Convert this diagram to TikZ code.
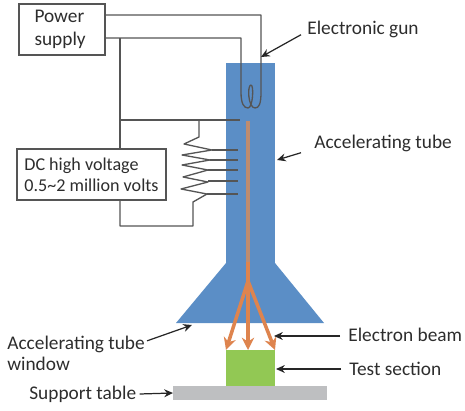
\documentclass[tikz,border=0pt]{standalone}
\usepackage{fontspec}
\setmainfont{Carlito}
\usetikzlibrary{arrows.meta,positioning}
\definecolor{tubeblue}{RGB}{91,142,198}
\definecolor{beamorange}{RGB}{222,132,78}
\definecolor{beamdim}{RGB}{190,140,112}
\definecolor{testgreen}{RGB}{146,200,84}
\definecolor{tablegray}{RGB}{190,191,193}
\definecolor{wiregray}{RGB}{85,85,85}
\definecolor{textgray}{RGB}{45,45,45}

\begin{document}
\begin{tikzpicture}[x=.02cm,y=-.02cm, wire/.style={wiregray,line width=.75pt,line join=round}, box/.style={draw=wiregray,line width=.75pt,fill=white,align=left,font=\fontsize{10.3}{12}\selectfont,text=textgray,inner sep=0pt}, lbl/.style={font=\fontsize{11}{12}\selectfont,text=textgray,align=left,inner sep=0pt,anchor=west}, pointer/.style={-{Stealth[length=5pt,width=4.5pt]},black!85,line width=.7pt}, beam/.style={beamorange,line width=2pt,-{Stealth[length=7pt,width=7pt]}}, solid part/.style={inner sep=0pt,outer sep=0pt}]
  \useasboundingbox (0,0) rectangle (465,411);
  % tube and window
  \node[solid part,fill=tubeblue,minimum width=.98cm,minimum height=4cm] (tube) at (250.5,163) {};
  \node[solid part,fill=tubeblue,draw=tubeblue!85!black,line width=.3pt,minimum width=.98cm,minimum height=0pt] (neck) at (250.5,263) {};
  \coordinate (winL) at (176,323);
  \coordinate (winR) at (324,323);
  \fill[tubeblue] (neck.west) -- (winL) -- (winR) -- (neck.east) -- cycle;
  \node[solid part,fill=testgreen,minimum width=.98cm,minimum height=.72cm] (test) at (250.5,368) {};
  \node[solid part,fill=tablegray,minimum width=3.08cm,minimum height=.28cm] (table) at (250,393) {};
  % boxes
  \node[box,minimum width=1.72cm,minimum height=1.02cm,text width=1.1cm,font=\fontsize{11}{13}\selectfont] (power) at (62,29.5) {Power\\supply};
  \node[box,minimum width=2.98cm,minimum height=1.02cm] (dc) at (91.5,174.5) {DC high voltage\\0.5\textasciitilde2 million volts};
  % power and filament
  \coordinate (filL) at (241,38);
  \coordinate (filR) at (261,15);
  \coordinate (filA) at (248,108);
  \coordinate (filB) at (251,85);
  \coordinate (node1) at (120,38);
  \coordinate (node2) at (120,120);
  \coordinate (grid) at (240,120);
  \coordinate (tap) at (199,120);
  \draw[wire] (power.east |- filL) -- (filL) -- (241,92) .. controls (241,104) and (244,108) .. (filA) .. controls (253,108) and (254,85) .. (filB) .. controls (247,85) and (248,108) .. (255,108) .. controls (259,108) and (261,104) .. (261,92) -- (filR) -- (power.east |- filR);
  \draw[wire] (node1) -- (dc.north -| node1);
  \draw[wire] (node2) -- (grid);
  % divider
  \coordinate (ret) at (120,226);
  \draw[wire] (tap) -- (199,137) -- (184,144) -- (212,150) -- (182,155) -- (210,160) -- (182,165) -- (208,170) -- (183,177) -- (208,182) -- (181,189) -- (207,194) -- (193,202) -- (193,226) -- (ret) -- (dc.south -| ret);
  \foreach \ya/\xa in {150/212,160/210,170/208,181/208,194/207}
    \draw[wire] (\xa,\ya) -- (238,\ya);
  % beam
  \coordinate (fork) at (248,281);
  \draw[beamdim,line width=2.2pt] (248,121) -- (248,262);
  \draw[beamorange,line width=2.2pt] (248,262) -- (fork);
  \draw[beam] (fork) -- (248,350);
  \draw[beam] (fork) -- (226,350);
  \draw[beam] (fork) -- (275,350);
  % labels
  \node[lbl] (gunlbl) at (307,29) {Electronic gun};
  \node[lbl] (tubelbl) at (314,143) {Accelerating tube};
  \node[lbl] (beamlbl) at (348,335) {Electron beam};
  \node[lbl] (testlbl) at (349,369) {Test section};
  \node[lbl] (winlbl) at (7,353.5) {Accelerating tube\\window};
  \node[lbl] (tablelbl) at (29,394) {Support table};
  \draw[pointer] (gunlbl.south west) ++(-6,-3) -- (261,57);
  \draw[pointer] (tubelbl.south west) ++(-13,1) -- (277,160);
  \draw[pointer] (beamlbl.west) ++(-8,1) -- (274,336);
  \draw[pointer] (testlbl.west) ++(-8,0) -- (276,369);
  \draw[pointer] (winlbl.north east) ++(2,5) -- (192,325);
  \draw[pointer] (tablelbl.east) ++(3,0) -- (table.west);
\end{tikzpicture}
\end{document}
